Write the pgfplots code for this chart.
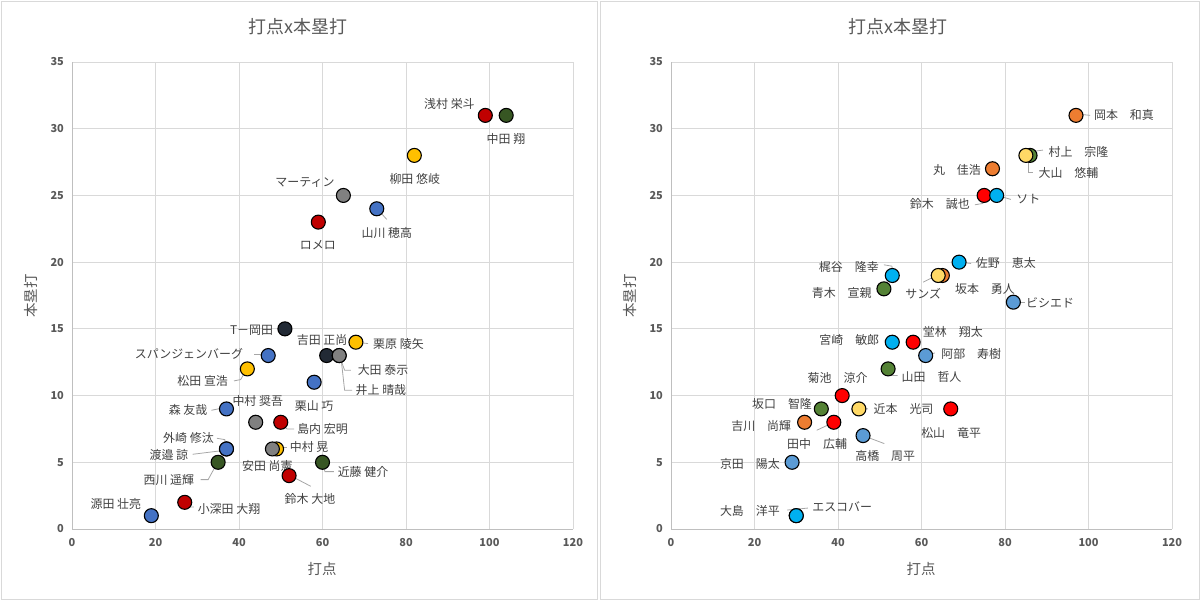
\documentclass[border=0pt]{standalone}
\usepackage{fontspec}
\usepackage{pgfplots}
\pgfplotsset{compat=1.18}
\setmainfont{Noto Sans CJK JP}
\definecolor{gridc}{HTML}{D9D9D9}
\definecolor{axc}{HTML}{BFBFBF}
\definecolor{txt}{HTML}{595959}
\definecolor{lbl}{HTML}{404040}
\definecolor{leadc}{HTML}{A6A6A6}
% Pacific
\definecolor{pRed}{HTML}{C00000}
\definecolor{pGreen}{HTML}{375623}
\definecolor{pYellow}{HTML}{FFC000}
\definecolor{pGray}{HTML}{808080}
\definecolor{pBlue}{HTML}{4472C4}
\definecolor{pNavy}{HTML}{222A35}
% Central
\definecolor{cOrange}{HTML}{ED7D31}
\definecolor{cYellow}{HTML}{FFD966}
\definecolor{cRed}{HTML}{FF0000}
\definecolor{cLBlue}{HTML}{00B0F0}
\definecolor{cBlue}{HTML}{5B9BD5}
\definecolor{cGreen}{HTML}{548235}
\pgfplotsset{
  myax/.style={
    anchor=south west, scale only axis, width=501bp, height=467bp,
    xmin=0, xmax=120, ymin=0, ymax=35,
    xtick={0,20,...,120}, ytick={0,5,...,35},
    axis lines=left,
    grid=major, major grid style={draw=gridc, line width=0.8bp},
    axis line style={draw=axc, line width=0.9bp, -},
    tick style={draw=none},
    /pgf/number format/assume math mode=true,
    ticklabel style={font=\fontsize{11}{13}\selectfont\bfseries, text=txt},
    xticklabel style={yshift=-3.5bp},
    yticklabel style={xshift=-2.5bp},
    clip=false,
  },
  pt/.style={only marks, mark=*, mark size=7bp, mark options={fill=#1, draw=black, line width=1.1bp}},
}
\tikzset{
  nm/.style={font=\fontsize{12}{14}\selectfont, text=lbl, inner sep=0pt},
  ld/.style={draw=leadc, line width=0.8bp},
}
\begin{document}
\begin{tikzpicture}
\path[use as bounding box] (0,0) rectangle (1200bp,-601bp);
\draw[gridc, line width=1bp] (1bp,-1bp) rectangle (597bp,-599.5bp);
\draw[gridc, line width=1bp] (600bp,-1bp) rectangle (1199bp,-599.5bp);
% titles and labels
\node[font=\fontsize{18}{20}\selectfont, text=txt] at (298bp,-27bp) {打点x本塁打};
\node[font=\fontsize{18}{20}\selectfont, text=txt] at (898bp,-27bp) {打点x本塁打};
\node[font=\fontsize{14.5}{16}\selectfont, text=txt] at (322bp,-569bp) {打点};
\node[font=\fontsize{14.5}{16}\selectfont, text=txt] at (921bp,-569bp) {打点};
\node[font=\fontsize{14.5}{16}\selectfont, text=txt, rotate=90] at (31bp,-296bp) {本塁打};
\node[font=\fontsize{14.5}{16}\selectfont, text=txt, rotate=90] at (630bp,-296bp) {本塁打};

% ---------------- left chart ----------------
\begin{axis}[myax, at={(72bp,-529bp)}]
\addplot[pt=pNavy] coordinates {(51,15) (61,13)};
\addplot[pt=pGreen] coordinates {(104,31) (35,5) (60,5) (37,6) (64,13)};
\addplot[pt=pYellow] coordinates {(82,28) (68,14) (42,12) (49,6)};
\addplot[pt=pRed] coordinates {(99,31) (59,23) (50,8) (52,4) (27,2)};
\addplot[pt=pGray] coordinates {(65,25) (64,13) (44,8) (48,6)};
\addplot[pt=pBlue] coordinates {(73,24) (47,13) (58,11) (37,9) (37,6) (19,1)};
% leaders
\draw[ld] (axis cs:73.4,23.9) -- (axis cs:75.4,23.2);
\draw[ld] (axis cs:67.9,14.0) -- (axis cs:70.9,13.9);
\draw[ld] (axis cs:43.7,13.1) -- (axis cs:46.6,13.1);
\draw[ld] (axis cs:64,13.0) -- (axis cs:65.3,11.9) -- (axis cs:66.8,11.9);
\draw[ld] (axis cs:64.4,12.9) -- (axis cs:65.3,10.4) -- (axis cs:67.1,10.4);
\draw[ld] (axis cs:41.9,12.0) -- (axis cs:40.4,11.2) -- (axis cs:38.8,11.1);
\draw[ld] (axis cs:33.4,8.9) -- (axis cs:36.6,9.1);
\draw[ld] (axis cs:49.8,7.9) -- (axis cs:51.5,7.5) -- (axis cs:53.2,7.5);
\draw[ld] (axis cs:34.7,6.8) -- (axis cs:36.6,6.7) -- (axis cs:36.9,6.07);
\draw[ld] (axis cs:28.9,5.6) -- (axis cs:36.6,5.9);
\draw[ld] (axis cs:49.8,6.1) -- (axis cs:51.5,6.1);
\draw[ld] (axis cs:59.9,4.9) -- (axis cs:60.6,4.3) -- (axis cs:62.7,4.3);
\draw[ld] (axis cs:34.7,4.9) -- (axis cs:32.6,3.7) -- (axis cs:30.8,3.7);
\draw[ld] (axis cs:52,4.05) -- (axis cs:57.2,3.2);
\draw[ld] (axis cs:27,2.05) -- (axis cs:27.8,1.65) -- (axis cs:29.2,1.65);
% names
\node[nm] at (axis cs:90.4,31.85) {浅村 栄斗};
\node[nm] at (axis cs:103.95,29.25) {中田 翔};
\node[nm] at (axis cs:82.1,26.23) {柳田 悠岐};
\node[nm] at (axis cs:55.8,25.98) {マーティン};
\node[nm] at (axis cs:75.4,22.18) {山川 穂高};
\node[nm] at (axis cs:58.9,21.28) {ロメロ};
\node[nm] at (axis cs:43.0,14.91) {T－岡田};
\node[nm] at (axis cs:59.9,14.16) {吉田 正尚};
\node[nm] at (axis cs:78.2,13.86) {栗原 陵矢};
\node[nm] at (axis cs:28.0,13.12) {スパンジェンバーグ};
\node[nm] at (axis cs:74.5,11.92) {大田 泰示};
\node[nm] at (axis cs:74.0,10.42) {井上 晴哉};
\node[nm] at (axis cs:31.3,11.09) {松田 宣浩};
\node[nm] at (axis cs:27.8,8.92) {森 友哉};
\node[nm] at (axis cs:44.5,9.62) {中村 奨吾};
\node[nm] at (axis cs:58.0,9.22) {栗山 巧};
\node[nm] at (axis cs:60.0,7.49) {島内 宏明};
\node[nm] at (axis cs:27.9,6.84) {外崎 修汰};
\node[nm] at (axis cs:23.2,5.55) {渡邉 諒};
\node[nm] at (axis cs:56.8,6.17) {中村 晃};
\node[nm] at (axis cs:46.8,4.72) {安田 尚憲};
\node[nm] at (axis cs:69.7,4.29) {近藤 健介};
\node[nm] at (axis cs:23.2,3.67) {西川 遥輝};
\node[nm] at (axis cs:57.0,2.25) {鈴木 大地};
\node[nm] at (axis cs:37.6,1.50) {小深田 大翔};
\node[nm] at (axis cs:10.5,1.90) {源田 壮亮};
\end{axis}

% ---------------- right chart ----------------
\begin{axis}[myax, at={(671bp,-529bp)}]
\addplot[pt=cOrange] coordinates {(97,31) (77,27) (65,19) (32,8)};
\addplot[pt=cGreen] coordinates {(86,28) (51,18) (52,12) (36,9)};
\addplot[pt=cRed] coordinates {(75,25) (58,14) (41,10) (67,9) (39,8)};
\addplot[pt=cBlue] coordinates {(82,17) (61,13) (46,7) (29,5) (30,1)};
\addplot[pt=cYellow] coordinates {(85,28) (64,19) (45,9)};
\addplot[pt=cLBlue] coordinates {(78,25) (69,20) (53,19) (53,14) (30,1)};
% leaders
\draw[ld] (axis cs:97.5,31.1) -- (axis cs:100.4,31.0);
\draw[ld] (axis cs:86.8,28.3) -- (axis cs:89.1,28.4);
\draw[ld] (axis cs:85.5,28.0) -- (axis cs:85.5,26.7) -- (axis cs:86.8,26.7);
\draw[ld] (axis cs:75.1,25.0) -- (axis cs:74.7,24.4) -- (axis cs:72.8,24.3);
\draw[ld] (axis cs:78.2,25.0) -- (axis cs:81.4,24.7);
\draw[ld] (axis cs:69,20) -- (axis cs:71.9,19.9);
\draw[ld] (axis cs:53.2,19.04) -- (axis cs:52.9,19.7) -- (axis cs:51,19.8);
\draw[ld] (axis cs:51,18.06) -- (axis cs:49.3,17.8);
\draw[ld] (axis cs:63.6,19.0) -- (axis cs:60.4,18.5);
\draw[ld] (axis cs:83.1,17.0) -- (axis cs:84.8,17.0);
\draw[ld] (axis cs:53.2,14.0) -- (axis cs:51,14.1);
\draw[ld] (axis cs:61.3,13.0) -- (axis cs:63.2,13.2);
\draw[ld] (axis cs:52.2,12) -- (axis cs:52.5,11.5) -- (axis cs:54.3,11.5);
\draw[ld] (axis cs:45,9.07) -- (axis cs:47.2,9.0);
\draw[ld] (axis cs:32.1,8.0) -- (axis cs:30.4,7.7);
\draw[ld] (axis cs:39,8.0) -- (axis cs:34.9,7.4);
\draw[ld] (axis cs:46,7.0) -- (axis cs:51.1,6.4);
\draw[ld] (axis cs:29,5.0) -- (axis cs:27.8,4.9);
\draw[ld] (axis cs:27.8,1.42) -- (axis cs:32.8,1.57);
\draw[ld] (axis cs:30,1) -- (axis cs:30,1.45);
% names
\node[nm] at (axis cs:108.5,31.03) {岡本　和真};
\node[nm] at (axis cs:97.6,28.28) {村上　宗隆};
\node[nm] at (axis cs:95.2,26.66) {大山　悠輔};
\node[nm] at (axis cs:68.5,26.9) {丸　佳浩};
\node[nm] at (axis cs:64.4,24.36) {鈴木　誠也};
\node[nm] at (axis cs:85.6,24.73) {ソト};
\node[nm] at (axis cs:80.2,19.94) {佐野　恵太};
\node[nm] at (axis cs:42.6,19.66) {梶谷　隆幸};
\node[nm] at (axis cs:40.9,17.66) {青木　宣親};
\node[nm] at (axis cs:60.4,17.61) {サンズ};
\node[nm] at (axis cs:75.2,17.99) {坂本　勇人};
\node[nm] at (axis cs:90.8,16.96) {ビシエド};
\node[nm] at (axis cs:42.7,14.16) {宮崎　敏郎};
\node[nm] at (axis cs:67.5,14.74) {堂林　翔太};
\node[nm] at (axis cs:71.9,13.12) {阿部　寿樹};
\node[nm] at (axis cs:62.4,11.41) {山田　哲人};
\node[nm] at (axis cs:39.9,11.34) {菊池　涼介};
\node[nm] at (axis cs:26.6,9.37) {坂口　智隆};
\node[nm] at (axis cs:55.7,8.97) {近本　光司};
\node[nm] at (axis cs:67.1,7.17) {松山　竜平};
\node[nm] at (axis cs:21.6,7.74) {吉川　尚輝};
\node[nm] at (axis cs:35.0,6.37) {田中　広輔};
\node[nm] at (axis cs:51.3,5.47) {高橋　周平};
\node[nm] at (axis cs:18.9,4.87) {京田　陽太};
\node[nm] at (axis cs:18.9,1.35) {大島　洋平};
\node[nm] at (axis cs:41.0,1.63) {エスコバー};
\end{axis}
\end{tikzpicture}
\end{document}
